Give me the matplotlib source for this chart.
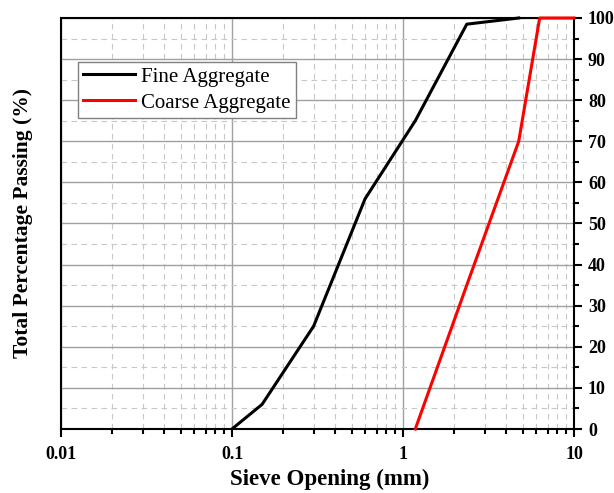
import matplotlib
matplotlib.use("Agg")
import matplotlib.pyplot as plt
from matplotlib.ticker import LogLocator, MultipleLocator, FixedLocator, FixedFormatter

# sieve data
fine_size = [0.1, 0.15, 0.3, 0.6, 1.18, 2.36, 4.75]
fine_pass = [0, 6, 25, 56, 75, 98.5, 100]
coarse_size = [1.18, 2.36, 4.75, 6.3, 10]
coarse_pass = [0, 35, 70, 100, 100]

x_ticks = [0.01, 0.1, 1, 10]
x_labels = ["0.01", "0.1", "1", "10"]

plt.rcParams['font.family'] = ['Liberation Serif', 'DejaVu Serif']

fig = plt.figure(figsize=(6.14, 4.93), dpi=100)
ax = fig.add_axes([61/614, 1 - 429/493, (574-61)/614, (429-18)/493])

ax.plot(fine_size, fine_pass, color="black", lw=2.2, label="Fine Aggregate", zorder=3, clip_on=False)
ax.plot(coarse_size, coarse_pass, color="red", lw=2.2, label="Coarse Aggregate", zorder=3, clip_on=False)

ax.set_xscale("log")
ax.set_xlim(0.01, 10)
ax.set_ylim(0, 100)

ax.xaxis.set_major_locator(FixedLocator(x_ticks))
ax.xaxis.set_major_formatter(FixedFormatter(x_labels))
ax.xaxis.set_minor_locator(LogLocator(base=10, subs=range(2, 10)))
ax.xaxis.set_minor_formatter(plt.NullFormatter())
ax.yaxis.set_major_locator(MultipleLocator(10))
ax.yaxis.set_minor_locator(MultipleLocator(5))

ax.yaxis.tick_right()
ax.tick_params(axis="both", which="major", direction="out", length=6, width=1.5,
               labelsize=13, pad=6)
ax.tick_params(axis="y", which="major", pad=4)
ax.tick_params(axis="both", which="minor", direction="out", length=3.5, width=1.5)
for lab in ax.get_xticklabels() + ax.get_yticklabels():
    lab.set_fontweight("bold")

ax.grid(True, which="major", color="#a0a0a0", lw=1.0, ls="-")
ax.grid(True, which="minor", color="#c8c8c8", lw=0.8, ls=(0, (5, 4)))
ax.set_axisbelow(True)

for s in ax.spines.values():
    s.set_linewidth(1.5)
    s.set_color("black")

# axis titles placed in figure pixels
fig.text(330/614, 1 - 469/493, "Sieve Opening (mm)", fontsize=16.5, fontweight="bold",
         ha="center", va="top")
fig.text(23/614, 1 - 223/493, "Total Percentage Passing (%)", fontsize=15.5,
         fontweight="bold", rotation=90, ha="center", va="center")

leg = ax.legend(loc="upper left", bbox_to_anchor=(0.033, 0.893), borderaxespad=0,
                fontsize=15, handlelength=2.5, handletextpad=0.3, borderpad=0.25,
                labelspacing=0.3, fancybox=False, framealpha=1, edgecolor="#808080")
leg.get_frame().set_linewidth(1.0)

fig.savefig("out.png", dpi=100)
